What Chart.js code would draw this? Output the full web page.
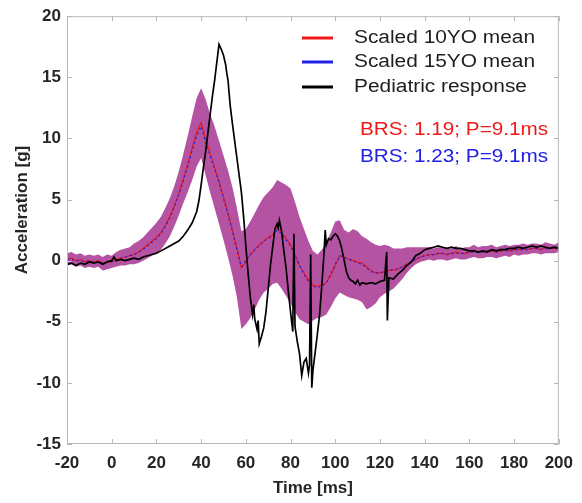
<!DOCTYPE html>
<html>
<head>
<meta charset="utf-8">
<script src="https://cdn.jsdelivr.net/npm/chart.js@4.4.1/dist/chart.umd.min.js"></script>
<style>
  html, body { margin: 0; padding: 0; background: #fff; }
  canvas { display: block; }
</style>
</head>
<body>
<canvas id="chart" width="582" height="503"></canvas>
<script>
// Scaled corridor data, sampled every 2 ms from -20 to 200 ms
const bandTime = [
  -20, -18, -16, -14, -12, -10, -8, -6, -4, -2,
  0, 2, 4, 6, 8, 10, 12, 14, 16, 18,
  20, 22, 24, 26, 28, 30, 32, 34, 36, 38,
  40, 42, 44, 46, 48, 50, 52, 54, 56, 58,
  60, 62, 64, 66, 68, 70, 72, 74, 76, 78,
  80, 82, 84, 86, 88, 90, 92, 94, 96, 98,
  100, 102, 104, 106, 108, 110, 112, 114, 116, 118,
  120, 122, 124, 126, 128, 130, 132, 134, 136, 138,
  140, 142, 144, 146, 148, 150, 152, 154, 156, 158,
  160, 162, 164, 166, 168, 170, 172, 174, 176, 178,
  180, 182, 184, 186, 188, 190, 192, 194, 196, 198,
  200
];
const mean10 = [
  0.1, 0.2, 0.0, 0.1, -0.1, 0.0, -0.1, 0.0, -0.2, -0.1,
  -0.1, 0.1, 0.2, 0.3, 0.4, 0.5, 0.7, 1.0, 1.3, 1.6,
  1.9, 2.3, 2.9, 3.6, 4.5, 5.5, 6.7, 7.9, 9.2, 10.5,
  11.3, 9.9, 8.8, 7.6, 6.5, 5.2, 3.9, 2.5, 1.0, -0.6,
  -0.1, 0.5, 0.9, 1.3, 1.6, 1.9, 2.1, 2.7, 2.3, 1.8,
  1.3, 0.5, -0.4, -1.0, -1.6, -2.0, -2.1, -2.0, -1.8, -1.2,
  -0.4, 0.4, 0.3, 0.1, 0.0, -0.1, -0.2, -0.5, -0.8, -1.0,
  -1.0, -0.9, -0.8, -0.8, -0.7, -0.5, -0.3, -0.1, 0.1, 0.3,
  0.4, 0.5, 0.5, 0.6, 0.6, 0.5, 0.6, 0.7, 0.6, 0.6,
  0.7, 0.8, 0.7, 0.7, 0.8, 0.8, 0.7, 0.8, 0.9, 0.8,
  0.9, 0.9, 1.0, 0.9, 1.0, 1.0, 0.9, 1.1, 1.0, 1.0,
  1.1
];
const mean15 = [
  0.1, 0.1, 0.0, 0.0, -0.1, 0.0, -0.1, -0.1, -0.2, -0.1,
  -0.1, 0.0, 0.2, 0.3, 0.4, 0.5, 0.7, 0.9, 1.2, 1.5,
  1.8, 2.2, 2.8, 3.5, 4.4, 5.4, 6.5, 7.7, 9.0, 10.2,
  11.0, 9.7, 8.6, 7.5, 6.4, 5.1, 3.8, 2.4, 0.9, -0.5,
  0.0, 0.5, 0.9, 1.2, 1.6, 1.8, 2.0, 2.5, 2.2, 1.7,
  1.2, 0.4, -0.4, -1.1, -1.7, -2.1, -2.2, -2.1, -1.8, -1.1,
  -0.3, 0.4, 0.3, 0.1, 0.0, -0.2, -0.3, -0.6, -0.9, -1.0,
  -1.0, -0.9, -0.8, -0.7, -0.7, -0.5, -0.3, -0.1, 0.1, 0.3,
  0.4, 0.5, 0.5, 0.6, 0.6, 0.5, 0.6, 0.6, 0.6, 0.6,
  0.7, 0.7, 0.7, 0.7, 0.8, 0.8, 0.7, 0.8, 0.8, 0.8,
  0.9, 0.9, 0.9, 0.9, 1.0, 1.0, 0.9, 1.0, 1.0, 1.0,
  1.0
];
const bandUpper = [
  0.6, 0.7, 0.5, 0.6, 0.4, 0.5, 0.4, 0.5, 0.3, 0.5,
  0.4, 0.7, 0.9, 1.0, 1.1, 1.4, 1.6, 1.9, 2.3, 2.7,
  3.1, 3.6, 4.3, 5.1, 6.1, 7.3, 8.7, 10.2, 11.8, 13.3,
  14.1, 13.2, 12.0, 11.0, 9.8, 8.6, 7.4, 6.0, 4.3, 2.4,
  2.6, 3.2, 3.9, 4.6, 5.2, 5.6, 6.0, 6.6, 6.4, 6.2,
  5.9, 4.8, 3.6, 2.6, 1.6, 0.8, 0.5, 0.9, 1.5, 2.3,
  3.2, 3.3, 2.5, 2.3, 2.6, 2.4, 2.0, 1.8, 1.5, 1.3,
  1.2, 1.3, 1.2, 1.0, 1.0, 1.0, 1.1, 1.1, 1.1, 1.1,
  1.1, 1.1, 1.0, 1.1, 1.1, 1.0, 1.0, 1.2, 1.0, 1.1,
  1.1, 1.3, 1.1, 1.2, 1.2, 1.3, 1.1, 1.2, 1.3, 1.2,
  1.3, 1.3, 1.4, 1.3, 1.4, 1.4, 1.3, 1.5, 1.4, 1.3,
  1.5
];
const bandLower = [
  -0.4, -0.3, -0.5, -0.4, -0.6, -0.5, -0.6, -0.5, -0.8, -0.7,
  -0.6, -0.5, -0.4, -0.4, -0.3, -0.3, -0.2, 0.0, 0.2, 0.4,
  0.6, 0.9, 1.4, 2.0, 2.8, 3.7, 4.7, 5.6, 6.6, 7.7,
  8.4, 7.0, 5.6, 4.3, 3.0, 1.7, 0.3, -1.2, -3.0, -5.6,
  -5.2, -4.7, -4.0, -3.2, -2.6, -2.3, -1.9, -1.8, -2.3, -2.9,
  -3.5, -4.2, -4.8, -5.0, -5.2, -4.9, -4.7, -4.6, -4.4, -3.8,
  -3.1, -2.6, -2.8, -3.0, -3.1, -3.2, -3.4, -4.0, -3.8, -3.5,
  -3.0, -2.7, -2.5, -2.3, -1.9, -1.5, -1.0, -0.6, -0.3, -0.1,
  0.0, 0.1, 0.0, 0.1, 0.1, 0.0, 0.1, 0.2, 0.1, 0.1,
  0.2, 0.3, 0.2, 0.2, 0.3, 0.3, 0.2, 0.3, 0.4, 0.3,
  0.5, 0.4, 0.5, 0.5, 0.6, 0.6, 0.5, 0.6, 0.6, 0.6,
  0.7
];

// Pediatric response (uneven sampling around the spikes)
const pedTime = [
  -20, -18, -16, -14, -12, -10, -8, -6, -4, -2,
  0, 1, 2, 4, 6, 8, 10, 12, 14, 16, 18,
  20, 22, 24, 26, 28, 30, 32, 34, 36, 38, 39,
  40, 41, 42, 43, 44, 45, 46, 47, 48, 49,
  50, 51, 51.5, 52, 53, 54, 55, 56, 57, 58, 59,
  60, 61, 62, 63, 63.5, 64, 65, 65.5, 66, 67, 68, 69,
  70, 71, 72, 73, 74, 74.5, 75, 76, 77, 78, 79,
  80, 81, 81.5, 82, 83, 84, 85, 86, 87, 88, 88.5, 89, 89.5,
  90, 91, 92, 93, 94, 95, 95.5, 96, 97, 98, 99,
  100, 101, 102, 103, 104, 105, 106, 107, 108, 109,
  110, 111, 112, 114, 116, 118, 120, 122, 123, 123.3, 124, 126, 128,
  130, 132, 134, 136, 138, 140, 142, 144, 146, 148,
  150, 152, 154, 156, 158, 160, 162, 164, 166, 168,
  170, 172, 174, 176, 178, 180, 182, 184, 186, 188,
  190, 192, 194, 196, 198, 200
];
const pedAccel = [
  -0.3, -0.2, -0.4, -0.2, -0.3, -0.1, -0.2, -0.1, -0.3, -0.1,
  0.0, 0.3, 0.0, 0.1, 0.0, 0.1, 0.2, 0.1, 0.3, 0.4, 0.5,
  0.6, 0.8, 1.0, 1.2, 1.4, 1.6, 2.0, 2.5, 3.1, 4.0, 4.9,
  6.2, 7.6, 8.9, 10.4, 11.9, 13.4, 14.7, 16.2, 17.7, 17.3,
  16.8, 16.0, 15.3, 14.8, 12.7, 11.2, 9.8, 8.4, 7.0, 5.6, 3.6,
  1.2, -1.0, -3.0, -4.4, -3.6, -4.8, -5.6, -4.9, -6.8, -6.2, -5.5, -4.2,
  -2.3, -0.4, 1.1, 2.6, 3.0, 2.7, 3.3, 2.4, 0.8, -0.6, -2.5,
  -4.2, -5.8, 2.2, -5.4, -6.6, -7.6, -9.4, -8.3, -8.0, -9.2, -8.5, 0.5, -10.4,
  -9.0, -7.5, -6.0, -4.4, -2.0, 0.7, 2.5, 1.3, 1.8, 1.7, 2.0,
  2.2, 2.0, 1.6, 0.9, 0.0, -0.9, -1.4, -1.6, -1.7, -1.9,
  -1.6, -2.0, -1.8, -1.9, -1.8, -1.9, -1.7, -1.6, 0.7, -4.9, -1.4, -1.5, -1.1,
  -0.8, -0.4, -0.1, 0.4, 0.6, 0.9, 1.0, 1.1, 1.2, 1.1,
  1.0, 1.1, 1.0, 1.0, 0.9, 0.8, 0.8, 0.7, 0.8, 0.7,
  0.9, 0.8, 0.9, 0.9, 1.0, 1.0, 1.1, 1.0, 1.1, 1.2,
  1.1, 1.2, 1.1, 1.0, 1.1, 1.0
];

const legendLabels = ['Scaled 10YO mean', 'Scaled 15YO mean', 'Pediatric response'];
const statLines = ['BRS: 1.19; P=9.1ms', 'BRS: 1.23; P=9.1ms'];
const xTicks = { min: -20, max: 200, step: 20 };
const yTicks = { min: -15, max: 20, step: 5 };

const FONT = '"Liberation Sans", Arial, Helvetica, sans-serif';
const RED = '#f01818';
const BLUE = '#2020e8';
const BLACK = '#000000';

function pts(xs, ys) {
  return xs.map((x, i) => ({ x: x, y: ys[i] }));
}

// box with inward ticks, like the MATLAB axes
const axesBox = {
  id: 'axesBox',
  afterDatasetsDraw(chart) {
    const { ctx, chartArea: a, scales: { x, y } } = chart;
    ctx.save();
    ctx.strokeStyle = '#b8b8b8';
    ctx.lineWidth = 1;
    ctx.strokeRect(a.left + 0.5, a.top + 0.5, a.right - a.left - 1, a.bottom - a.top - 1);
    ctx.beginPath();
    x.ticks.forEach(t => {
      const px = Math.round(x.getPixelForValue(t.value)) + 0.5;
      ctx.moveTo(px, a.bottom); ctx.lineTo(px, a.bottom - 5);
      ctx.moveTo(px, a.top); ctx.lineTo(px, a.top + 5);
    });
    y.ticks.forEach(t => {
      const py = Math.round(y.getPixelForValue(t.value)) + 0.5;
      ctx.moveTo(a.left, py); ctx.lineTo(a.left + 5, py);
      ctx.moveTo(a.right, py); ctx.lineTo(a.right - 5, py);
    });
    ctx.stroke();
    ctx.restore();
  },
  afterDraw(chart) {
    const ctx = chart.ctx;
    ctx.save();
    // y axis title
    ctx.translate(22, 210);
    ctx.rotate(-Math.PI / 2);
    ctx.font = 'bold 17px ' + FONT;
    ctx.fillStyle = '#262626';
    ctx.textAlign = 'center';
    ctx.textBaseline = 'middle';
    ctx.fillText('Acceleration [g]', 0, 0);
    ctx.restore();

    // legend
    const colors = [RED, BLUE, BLACK];
    const rows = [38, 62, 87];
    ctx.save();
    legendLabels.forEach((label, i) => {
      ctx.strokeStyle = colors[i];
      ctx.lineWidth = 3;
      ctx.beginPath();
      ctx.moveTo(302, rows[i]);
      ctx.lineTo(333, rows[i]);
      ctx.stroke();
      ctx.save();
      ctx.translate(354, rows[i]);
      ctx.scale(1.16, 1);
      ctx.font = '18px ' + FONT;
      ctx.fillStyle = '#1e1e1e';
      ctx.textBaseline = 'middle';
      ctx.fillText(label, 0, 0);
      ctx.restore();
    });
    const statColors = [RED, BLUE];
    const statRows = [130, 157];
    statLines.forEach((txt, i) => {
      ctx.save();
      ctx.translate(360, statRows[i]);
      ctx.scale(1.15, 1);
      ctx.font = '18px ' + FONT;
      ctx.fillStyle = statColors[i];
      ctx.textBaseline = 'middle';
      ctx.fillText(txt, 0, 0);
      ctx.restore();
    });
    ctx.restore();
  }
};

new Chart(document.getElementById('chart'), {
  type: 'line',
  data: {
    datasets: [
      {
        label: 'upper',
        data: pts(bandTime, bandUpper),
        borderWidth: 0,
        pointRadius: 0,
        backgroundColor: 'rgba(162, 45, 142, 0.82)',
        fill: '+1',
        order: 5
      },
      {
        label: 'lower',
        data: pts(bandTime, bandLower),
        borderWidth: 0,
        pointRadius: 0,
        fill: false,
        order: 6
      },
      {
        label: legendLabels[0],
        data: pts(bandTime, mean10),
        borderColor: RED,
        borderWidth: 1.2,
        pointRadius: 0,
        fill: false,
        order: 3
      },
      {
        label: legendLabels[1],
        data: pts(bandTime, mean15),
        borderColor: BLUE,
        borderWidth: 1.2,
        borderDash: [2, 3],
        pointRadius: 0,
        fill: false,
        order: 2
      },
      {
        label: legendLabels[2],
        data: pts(pedTime, pedAccel),
        borderColor: BLACK,
        borderWidth: 1.7,
        pointRadius: 0,
        fill: false,
        order: 1
      }
    ]
  },
  options: {
    responsive: false,
    animation: false,
    layout: { padding: { top: 14, right: 23, left: 0, bottom: 0 } },
    plugins: {
      legend: { display: false },
      tooltip: { enabled: false }
    },
    scales: {
      x: {
        type: 'linear',
        min: xTicks.min,
        max: xTicks.max,
        afterFit: (s) => { s.height = 59; },
        ticks: {
          stepSize: xTicks.step,
          padding: 9,
          color: '#262626',
          font: { family: FONT, size: 17, weight: 'bold' }
        },
        grid: { display: false, drawTicks: false },
        border: { display: false },
        title: {
          display: true,
          text: 'Time [ms]',
          color: '#262626',
          padding: { top: 0, bottom: 4 },
          font: { family: FONT, size: 17, weight: 'bold' }
        }
      },
      y: {
        type: 'linear',
        min: yTicks.min,
        max: yTicks.max,
        afterFit: (s) => { s.width = 67; },
        ticks: {
          stepSize: yTicks.step,
          padding: 6,
          color: '#262626',
          font: { family: FONT, size: 17, weight: 'bold' }
        },
        grid: { display: false, drawTicks: false },
        border: { display: false }
      }
    }
  },
  plugins: [axesBox]
});
</script>
</body>
</html>
